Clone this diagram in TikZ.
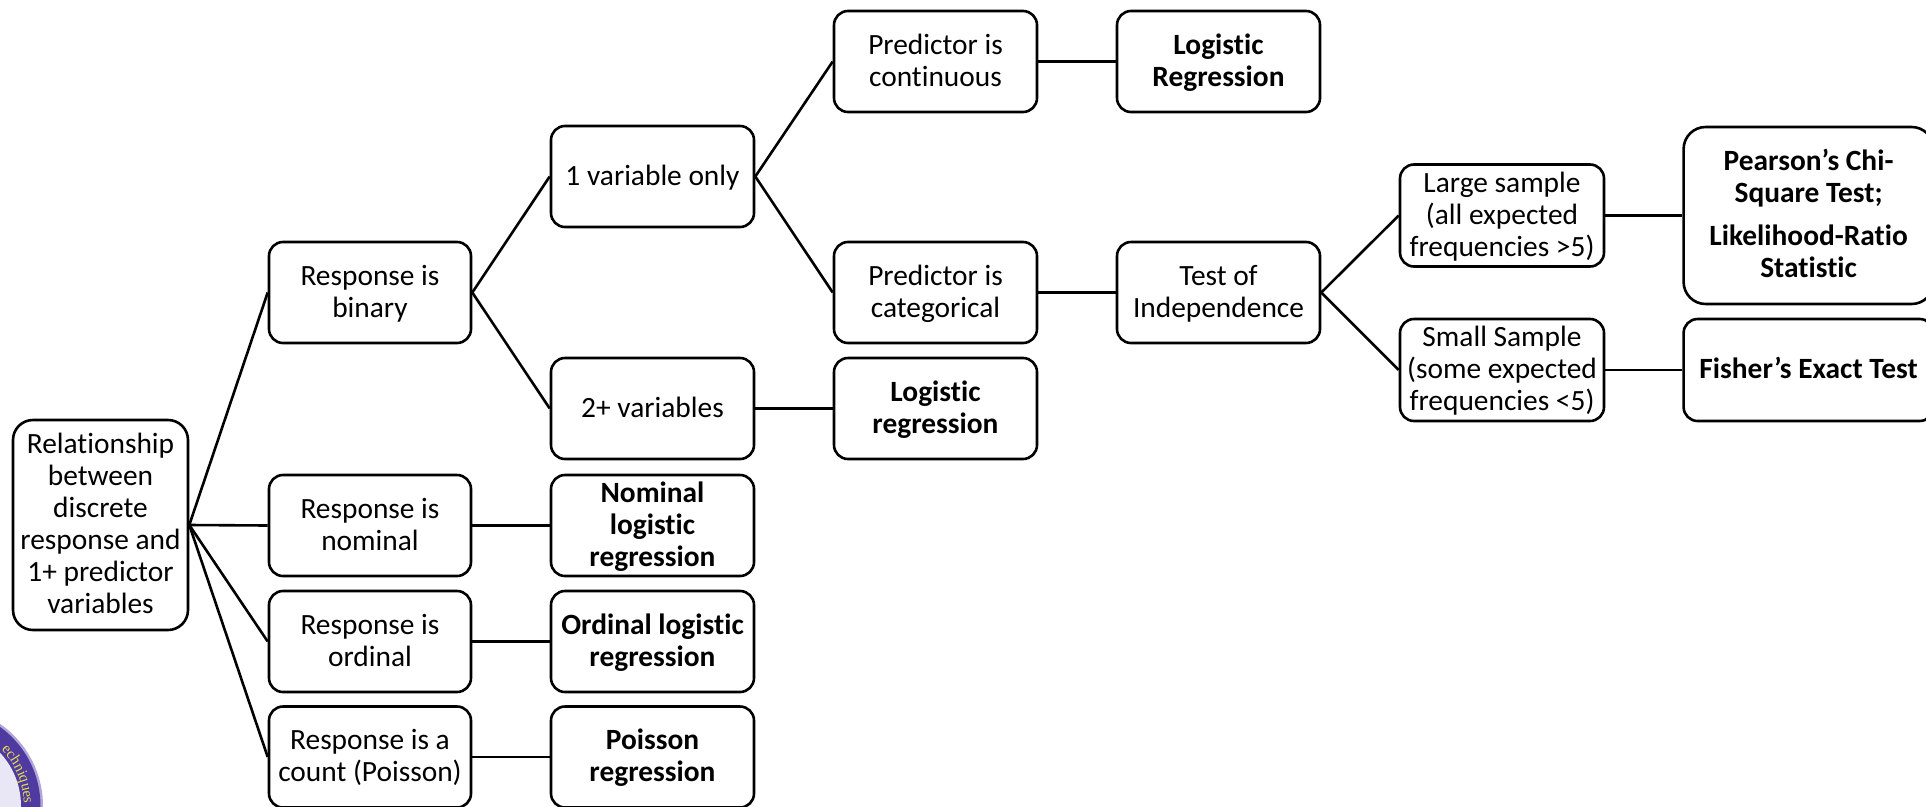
\documentclass[tikz,border=0pt]{standalone}
\usepackage{fontspec}
\setmainfont[Ligatures=CommonOff]{Carlito}
\newfontfamily\logofont{Liberation Serif}
\usetikzlibrary{decorations.text}
\definecolor{ringpurple}{HTML}{4F3AA0}
\definecolor{ringedge}{HTML}{B0A6D8}
\definecolor{ringtext}{HTML}{E8DC50}
\definecolor{discfill}{HTML}{E9E7F5}
\newcommand{\tx}[1]{\raisebox{-8.6pt}[0pt][0pt]{\begin{tabular}{@{}c@{}}#1\end{tabular}}}
\tikzset{
  bx/.style={draw=black,line width=2.6pt,rounded corners=#1,fill=white,inner sep=0pt,
    font=\fontsize{29.4}{32}\selectfont},
  bx/.default=14pt,
  link/.style={draw=black,line width=2.6pt},
}
\begin{document}
\begin{tikzpicture}[x=1pt,y=-1pt]
\useasboundingbox (0,0) rectangle (1926,806);
% logo fragment
\fill[ringedge] (-57,806) circle (100);
\fill[ringpurple] (-57,806) circle (97.5);
\fill[discfill] (-57,806) circle (78);
\path[decorate,decoration={text along path,text align={left},
  text={|\logofont\fontsize{15}{15}\selectfont\color{ringtext}|echniques}}]
  (1.27,749.7) .. controls (15.85,764.8) and (24,785) .. (24,806);
% boxes
\node[bx=20pt,minimum width=175pt,minimum height=210pt] (root) at (100.5,525) {\tx{Relationship\\between\\discrete\\response and\\1+ predictor\\variables}};
\node[bx,minimum width=202pt,minimum height=101pt] (binary) at (370,292.5) {\tx{Response is\\binary}};
\node[bx,minimum width=202pt,minimum height=101pt] (nominal) at (370,525.5) {\tx{Response is\\nominal}};
\node[bx,minimum width=202pt,minimum height=101pt] (ordinal) at (370,641.5) {\tx{Response is\\ordinal}};
\node[bx,minimum width=202pt,minimum height=101pt] (count) at (370,757) {\tx{Response is a\\count (Poisson)}};
\node[bx,minimum width=203pt,minimum height=101pt] (one) at (652.5,176.5) {\tx{1 variable only}};
\node[bx,minimum width=203pt,minimum height=101pt] (two) at (652.5,408.5) {\tx{2+ variables}};
\node[bx,minimum width=203pt,minimum height=101pt] (nomreg) at (652.5,525.5) {\tx{\textbf{Nominal}\\\textbf{logistic}\\\textbf{regression}}};
\node[bx,minimum width=203pt,minimum height=101pt] (ordreg) at (652.5,641.5) {\tx{\textbf{Ordinal logistic}\\\textbf{regression}}};
\node[bx,minimum width=203pt,minimum height=101pt] (poisreg) at (652.5,757) {\tx{\textbf{Poisson}\\\textbf{regression}}};
\node[bx,minimum width=203pt,minimum height=101pt] (cont) at (935.5,61.5) {\tx{Predictor is\\continuous}};
\node[bx,minimum width=203pt,minimum height=101pt] (cat) at (935.5,292.5) {\tx{Predictor is\\categorical}};
\node[bx,minimum width=203pt,minimum height=101pt] (logreg) at (935.5,408.5) {\tx{\textbf{Logistic}\\\textbf{regression}}};
\node[bx,minimum width=203pt,minimum height=101pt] (logReg) at (1218.5,61.5) {\tx{\textbf{Logistic}\\\textbf{Regression}}};
\node[bx,minimum width=203pt,minimum height=101pt] (toi) at (1218.5,292.5) {\tx{Test of\\Independence}};
\node[bx,minimum width=204pt,minimum height=102pt] (large) at (1502,215.5) {\tx{Large sample\\(all expected\\frequencies >5)}};
\node[bx,minimum width=204pt,minimum height=102pt] (small) at (1502,370) {\tx{Small Sample\\(some expected\\frequencies <5)}};
\node[bx=22pt,minimum width=250pt,minimum height=177pt] (pearson) at (1808.6,215.5) {\tx{\textbf{Pearson’s Chi-}\\\textbf{Square Test;}\\[11pt]\textbf{Likelihood-Ratio}\\\textbf{Statistic}}};
\node[bx,minimum width=250pt,minimum height=102pt] (fisher) at (1808.6,370) {\tx{\textbf{Fisher’s Exact Test}}};
% connectors
\foreach \a/\b in {root/binary,root/nominal,root/ordinal,root/count,
  binary/one,binary/two,one/cont,one/cat,toi/large,toi/small,
  nominal/nomreg,ordinal/ordreg,count/poisreg,two/logreg,cont/logReg,cat/toi,large/pearson,small/fisher}
  \draw[link] (\a.east) -- (\b.west);
\end{tikzpicture}
\end{document}
